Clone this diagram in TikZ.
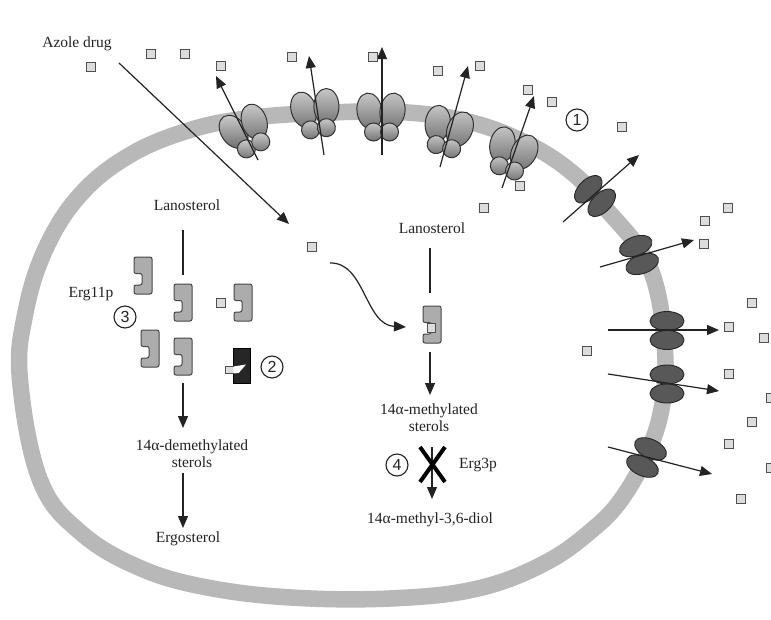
\documentclass[tikz,border=0pt]{standalone}
\usepackage{fontspec}
\setmainfont{Liberation Serif}
\newfontfamily\digitfont{Liberation Sans}
\usetikzlibrary{arrows.meta}
\definecolor{membrane}{RGB}{184,184,184}
\definecolor{inkgray}{RGB}{35,35,35}
\definecolor{drugfill}{RGB}{220,220,220}
\definecolor{drugedge}{RGB}{80,80,80}
\definecolor{enzfill}{RGB}{172,172,172}
\definecolor{enzedge}{RGB}{70,70,70}
\definecolor{mfsfill}{RGB}{88,88,88}
\tikzset{
  lbl/.style={font=\fontsize{15.5}{17}\selectfont, text=inkgray, inner sep=0pt},
  flow/.style={draw=inkgray, line width=1.2pt, -{Triangle[length=12pt,width=10pt]}},
  stem/.style={draw=inkgray, line width=1.2pt},
  drug/.style={draw=drugedge, fill=drugfill, line width=1.1pt, minimum size=9pt, inner sep=0pt},
  numcirc/.style={circle, draw=inkgray, line width=1.1pt, minimum size=22pt, inner sep=0pt,
    font=\digitfont\fontsize{16}{16}\selectfont, text=inkgray},
  lobe/.style={draw=black!80, line width=1pt, top color=black!22, bottom color=black!55},
  mfs/.style={draw=black!85, line width=0.9pt, fill=mfsfill},
  ergshape/.style={draw=enzedge, fill=enzfill, line width=1pt, rounded corners=2pt},
  % ABC-type efflux pump: two large lobes above two small domains
  abc/.pic={
    \path[lobe] (-11.5,-7) ellipse [x radius=12.5, y radius=18, rotate=8];
    \path[lobe] (11.5,-7) ellipse [x radius=12.5, y radius=18, rotate=-8];
    \path[lobe] (-7.5,14) circle [radius=9];
    \path[lobe] (8.5,14) circle [radius=9];
  },
  % MFS-type pump: two flat dark domains
  mfspair/.pic={
    \path[mfs] (0,-9.5) ellipse [x radius=17, y radius=9.5];
    \path[mfs] (0,9.5) ellipse [x radius=17, y radius=9.5];
  },
  % Erg11p enzyme with its binding pocket on the left
  erg/.pic={
    \path[ergshape] (-9,-18.5) -- (9,-18.5) -- (9,18.5) -- (-9,18.5) -- (-9,9.5)
      -- (-1,9.5) -- (-1,-2) -- (-9,-2) -- cycle;
  },
}
\begin{document}
\begin{tikzpicture}[x=1pt, y=-1pt]
\useasboundingbox (0,0) rectangle (771,619);
\fill[white] (0,0) rectangle (771,619);

% plasma membrane
\draw[membrane, line width=16.5pt] plot[smooth cycle, tension=0.65] coordinates {
  (20,380) (40,480) (80,532) (140,568) (210,588) (300,598) (400,598) (480,588)
  (545,563) (592,530) (623,497) (650,447) (663,400) (665,350) (657,290) (640,250)
  (607,210) (575,175) (530,145) (470,122) (400,112) (320,113) (250,118) (190,130)
  (130,155) (80,195) (45,250) (25,315)};

% ABC transporters
\pic[rotate=26] at (247,133) {abc};
\pic[rotate=8] at (316,115) {abc};
\pic at (381,118) {abc};
\pic[rotate=-15] at (447,133) {abc};
\pic[rotate=-19] at (511,155) {abc};

% MFS transporters
\pic[rotate=45] at (595,196) {mfspair};
\pic[rotate=20] at (639,255) {mfspair};
\pic at (667,330.5) {mfspair};
\pic at (667,384) {mfspair};
\pic[rotate=-25] at (646.5,457.5) {mfspair};

% efflux arrows
\coordinate (a1s) at (258,160); \coordinate (a1e) at (216,76);
\coordinate (a2s) at (324,155); \coordinate (a2e) at (309,56);
\coordinate (a3s) at (382,155); \coordinate (a3e) at (382,47);
\coordinate (a4s) at (440,167); \coordinate (a4e) at (468,66);
\coordinate (a5s) at (502,188); \coordinate (a5e) at (534,96);
\coordinate (m1s) at (563,222); \coordinate (m1e) at (639,155);
\coordinate (m2s) at (600,267); \coordinate (m2e) at (694,240);
\coordinate (m3s) at (608,330); \coordinate (m3e) at (719,330);
\coordinate (m4s) at (608,374); \coordinate (m4e) at (719,391);
\coordinate (m5s) at (608,447); \coordinate (m5e) at (712,474);
\foreach \s/\e in {a1s/a1e,a2s/a2e,a3s/a3e,a4s/a4e,a5s/a5e,m1s/m1e,m2s/m2e,m3s/m3e,m4s/m4e,m5s/m5e}
  \draw[flow] (\s) -- (\e);

% drug entering the cell
\node[lbl] (azole) at (77,44) {Azole drug};
\coordinate (azs) at (119,63);
\coordinate (aze) at (289,224);
\draw[flow] (azs) -- (aze);

% drug molecules
\foreach \p [count=\i] in {(91,67),(151,54),(185,54),(221,66),(292,57),(373,57),(438,71),(480,66),
  (528,90),(552,102),(622,127),(484,208),(520,186),(728,208),(705,221),(704,244),(752,303),
  (729,327),(764,338),(587,351),(729,374),(771,398),(752,422),(729,444),(771,468),(741,499),
  (312,247),(221,303)}
  \node[drug] (d\i) at \p {};

% left pathway: normal ergosterol synthesis
\node[lbl] (lanoL) at (187,205) {Lanosterol};
\coordinate (lanoLb) at (183,230);
\coordinate (lanoLe) at (183,275);
\draw[stem] (lanoLb) -- (lanoLe);
\pic at (143,275.5) {erg};
\pic at (183,302.5) {erg};
\pic at (243,302.5) {erg};
\pic at (150,348.5) {erg};
\pic at (183,356.5) {erg};
\node[lbl] (erg11) at (91,294) {Erg11p};
\node[numcirc] (n3) at (125,317) {3};

% altered target with reduced affinity
\node[draw=black, fill=black!85, minimum width=17pt, minimum height=35pt, inner sep=0pt] (alt) at (241.5,365.5) {};
\node[draw=drugedge, fill=drugfill, line width=0.9pt, minimum width=10pt, minimum height=7pt, inner sep=0pt] (altdrug) at (230,369.7) {};
\fill[white] (233.6,366.5) -- (246,364.5) -- (238.5,373.2) -- (233.6,373.2) -- cycle;
\node[numcirc] (n2) at (272,367) {2};

\coordinate (lf1s) at (183,383); \coordinate (lf1e) at (183,428);
\draw[flow] (lf1s) -- (lf1e);
\node[lbl, align=center] (demeth) at (192,454) {14α-demethylated\\sterols};
\coordinate (lf2s) at (183,473); \coordinate (lf2e) at (183,528);
\draw[flow] (lf2s) -- (lf2e);
\node[lbl] (ergost) at (188,539) {Ergosterol};

% centre pathway: blocked demethylation
\node[lbl] (lanoC) at (432,228) {Lanosterol};
\coordinate (lanoCb) at (430,248);
\coordinate (lanoCe) at (430,293);
\draw[stem] (lanoCb) -- (lanoCe);
\pic at (432,324.5) {erg};
\node[draw=drugedge, fill=drugfill, line width=0.9pt, minimum width=8pt, minimum height=9pt, inner sep=0pt] (bound) at (431,327.5) {};
\coordinate (cvs) at (330,263);
\coordinate (cve) at (406,327);
\draw[flow] (cvs) .. controls (365,262) and (365,325) .. (cve);

\coordinate (cf1s) at (430,352); \coordinate (cf1e) at (430,395);
\draw[flow] (cf1s) -- (cf1e);
\node[lbl, align=center] (methyl) at (429,418) {14α-methylated\\sterols};
\coordinate (cf2s) at (432,447); \coordinate (cf2e) at (432,499);
\draw[flow] (cf2s) -- (cf2e);
\coordinate (xa) at (420,447); \coordinate (xb) at (445,482);
\coordinate (xc) at (445,447); \coordinate (xd) at (420,482);
\draw[line width=4pt, black] (xa) -- (xb) (xc) -- (xd);
\node[numcirc] (n4) at (397,465) {4};
\node[lbl] (erg3) at (478,465) {Erg3p};
\node[lbl] (diol) at (430,520) {14α-methyl-3,6-diol};

\node[numcirc] (n1) at (577,120) {1};
\end{tikzpicture}
\end{document}
